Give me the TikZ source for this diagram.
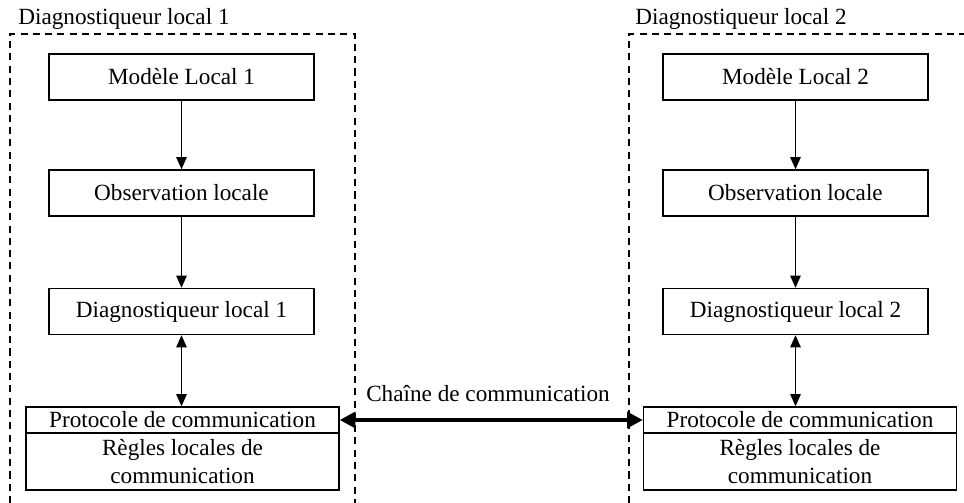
\documentclass[tikz,border=0pt]{standalone}
\usepackage{fontspec}
\setmainfont{Liberation Serif}
\usetikzlibrary{arrows.meta}

\tikzset{
  bloc/.style={draw,line width=0.8pt,minimum width=5.3cm,minimum height=0.92cm,inner sep=0pt,font=\fontsize{13.2}{15}\selectfont},
  proto/.style={draw,line width=0.8pt,minimum width=6.26cm,minimum height=0.52cm,inner sep=0pt,font=\fontsize{13.2}{15}\selectfont},
  regles/.style={draw,line width=0.8pt,minimum width=6.26cm,minimum height=1.14cm,inner sep=0pt,align=center,font=\fontsize{13.2}{15.5}\selectfont},
  cadre/.style={dashed,line width=0.7pt,dash pattern=on 4pt off 3pt},
  titre/.style={inner sep=0pt,anchor=base west,font=\fontsize{13.2}{15}\selectfont},
  fleche/.style={line width=0.8pt,-{Triangle[length=7pt,width=6pt]}},
  fleches/.style={line width=0.8pt,{Triangle[length=7pt,width=6pt]}-{Triangle[length=7pt,width=6pt]}},
  canal/.style={line width=2.8pt,{Triangle[length=9pt,width=9pt]}-{Triangle[length=9pt,width=9pt]}}
}

\begin{document}
\begin{tikzpicture}[x=0.02cm,y=-0.02cm]
\useasboundingbox (0,0) rectangle (964,503);
%\draw[step=50,gray,very thin] (0,0) grid (964,503); %background grid

% cadres en pointilles
\draw[cadre] (10,540) -- (10,34) -- (355,34) -- (355,540);
\draw[cadre] (629,540) -- (629,34) -- (990,34);
\node[titre] (t1) at (18,25) {Diagnostiqueur local 1};
\node[titre] (t2) at (635,25) {Diagnostiqueur local 2};

% diagnostiqueur 1
\node[bloc] (mod1) at (181.5,77) {Modèle Local 1};
\node[bloc] (obs1) at (181.5,193) {Observation locale};
\node[bloc] (diag1) at (181.5,311.5) {Diagnostiqueur local 1};
\node[proto] (prot1) at (182.5,420) {Protocole de communication};
\node[regles] (reg1) at (182.5,461.5) {Règles locales de\\communication};

% diagnostiqueur 2
\node[bloc] (mod2) at (795.5,77) {Modèle Local 2};
\node[bloc] (obs2) at (795.5,193) {Observation locale};
\node[bloc] (diag2) at (795.5,311.5) {Diagnostiqueur local 2};
\node[proto] (prot2) at (800,420) {Protocole de communication};
\node[regles] (reg2) at (800,461.5) {Règles locales de\\communication};

\draw[fleche] (mod1) -- (obs1);
\draw[fleche] (obs1) -- (diag1);
\draw[fleches] (diag1) -- (diag1 |- prot1.north);
\draw[fleche] (mod2) -- (obs2);
\draw[fleche] (obs2) -- (diag2);
\draw[fleches] (diag2) -- (diag2 |- prot2.north);

\draw[canal] (prot1.east) -- (prot2.west);
\node[font=\fontsize{13.2}{15}\selectfont] (chaine) at (488,394) {Chaîne de communication};
\end{tikzpicture}
\end{document}
